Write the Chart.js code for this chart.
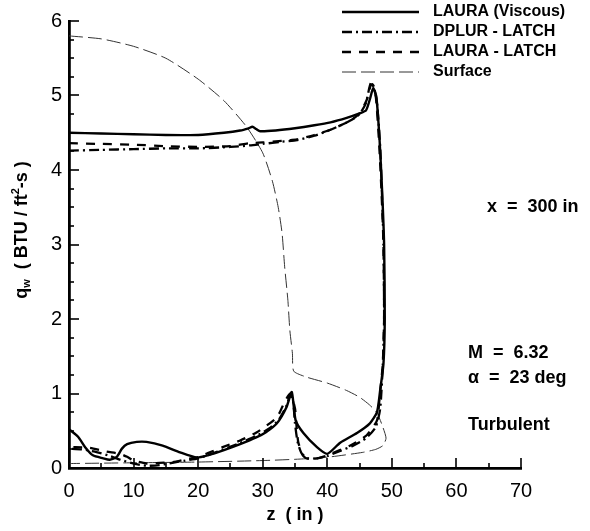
<!DOCTYPE html>
<html>
<head>
<meta charset="utf-8">
<script src="https://cdn.jsdelivr.net/npm/chart.js@4"></script>
<style>
  html, body { margin: 0; background: #fff; }
</style>
</head>
<body>
<canvas id="heatChart" width="590" height="531"></canvas>
<script>
const seriesNames = ['LAURA (Viscous)', 'DPLUR - LATCH', 'LAURA - LATCH', 'Surface'];

// solid line: windward side left->right, down the edge, leeward side right->left
const lauraViscousZ = [0, 5, 10, 15, 20, 24, 26.5, 27.8, 28.4, 29.0, 29.6, 32, 35, 38, 40.5, 43, 45, 46, 46.6, 47.1, 47.6, 48.1, 48.5, 48.8, 48.9, 48.7, 48.2, 47.7, 46.6, 44.6, 42, 40, 38.4, 36.3, 35.1, 34.5, 33.7, 32.2, 30.5, 29, 26.5, 24, 21.5, 19.8, 17.2, 14.5, 12, 10.5, 9, 8.2, 7.4, 6.3, 5.3, 3.7, 2.5, 1.4, 0];
const lauraViscousQ = [4.50, 4.49, 4.48, 4.47, 4.47, 4.50, 4.53, 4.56, 4.58, 4.55, 4.52, 4.53, 4.56, 4.60, 4.64, 4.70, 4.76, 4.80, 4.95, 5.10, 4.98, 4.40, 3.70, 3.00, 2.00, 1.40, 1.05, 0.75, 0.60, 0.47, 0.34, 0.19, 0.28, 0.47, 0.64, 1.02, 0.82, 0.60, 0.48, 0.41, 0.32, 0.24, 0.17, 0.14, 0.21, 0.30, 0.35, 0.35, 0.32, 0.26, 0.15, 0.11, 0.13, 0.17, 0.28, 0.42, 0.52];

const dplurZ = [0, 5, 10, 15, 20, 25, 28, 30, 33, 35.3, 38, 40.5, 43.5, 45, 46, 46.5, 46.8, 47.2, 47.7, 48.2, 48.5, 48.7, 48.8, 48.6, 48.2, 47.5, 46, 44, 42, 40, 38.5, 37, 36, 35.4, 35.0, 34.7, 34.3, 33.6, 32.5, 31, 29, 26, 23, 20, 18, 16, 14, 12, 10, 8, 6, 4, 2, 0];
const dplurQ = [4.26, 4.27, 4.28, 4.29, 4.29, 4.31, 4.33, 4.35, 4.38, 4.40, 4.46, 4.54, 4.66, 4.75, 4.90, 5.10, 5.18, 5.12, 4.90, 4.30, 3.60, 3.00, 2.00, 1.40, 0.80, 0.55, 0.40, 0.30, 0.23, 0.16, 0.13, 0.13, 0.20, 0.35, 0.60, 0.90, 0.98, 0.82, 0.65, 0.53, 0.43, 0.32, 0.22, 0.13, 0.10, 0.07, 0.04, 0.03, 0.06, 0.11, 0.17, 0.22, 0.25, 0.26];

const lauraLatchZ = [0, 5, 10, 15, 20, 25, 28, 30, 33, 35.3, 38, 40.5, 43.5, 45, 46.1, 46.7, 47.0, 47.5, 48.0, 48.4, 48.7, 48.8, 48.6, 48.1, 47.7, 46.1, 43.5, 40, 38.4, 36.8, 36.2, 35.5, 35.2, 35.0, 34.3, 33.4, 32.2, 29.1, 26.5, 23.8, 21.5, 20.2, 18.3, 16.1, 14, 12, 10, 9, 7.9, 5.8, 3.2, 1, 0];
const lauraLatchQ = [4.36, 4.35, 4.34, 4.32, 4.31, 4.32, 4.36, 4.37, 4.39, 4.41, 4.47, 4.54, 4.66, 4.76, 4.94, 5.13, 5.15, 5.00, 4.40, 3.70, 3.00, 2.00, 1.40, 0.95, 0.64, 0.44, 0.30, 0.17, 0.13, 0.13, 0.17, 0.35, 0.60, 0.80, 1.00, 0.89, 0.68, 0.48, 0.37, 0.28, 0.20, 0.15, 0.12, 0.08, 0.07, 0.06, 0.10, 0.15, 0.19, 0.22, 0.27, 0.28, 0.28];

// body cross-section outline drawn in the same frame
const surfaceZ = [0, 5, 10, 15, 20, 24, 27.5, 30, 31.5, 32.4, 33, 33.4, 33.9, 34.2, 34.6, 34.8, 36.8, 40, 43, 45, 46.5, 47.7, 48.6, 49.1, 48.6, 47.5, 45.5, 40.5, 35.8, 30, 20, 10, 0];
const surfaceQ = [5.80, 5.76, 5.66, 5.50, 5.22, 4.93, 4.58, 4.23, 3.85, 3.50, 3.15, 2.70, 2.25, 1.85, 1.54, 1.30, 1.22, 1.14, 1.04, 0.95, 0.85, 0.74, 0.55, 0.40, 0.30, 0.25, 0.21, 0.15, 0.12, 0.10, 0.08, 0.07, 0.06];

const notes = ['x  =  300 in', 'M  =  6.32', '\u03b1  =  23 deg', 'Turbulent'];

const FONT = '"Liberation Sans", Arial, Helvetica, sans-serif';

function pairs(zs, qs) {
    return zs.map((z, i) => ({ x: z, y: qs[i] }));
}

const decorations = {
    id: 'decorations',
    afterDraw(chart) {
        const ctx = chart.ctx;
        const xs = chart.scales.x;
        const ys = chart.scales.y;
        const area = chart.chartArea;
        ctx.save();

        // inward tick marks
        ctx.strokeStyle = '#000';
        ctx.lineWidth = 1.6;
        for (let v = 0; v <= 70; v += 5) {
            const px = Math.round(xs.getPixelForValue(v));
            const len = v % 10 === 0 ? 10 : 5;
            ctx.beginPath();
            ctx.moveTo(px, area.bottom);
            ctx.lineTo(px, area.bottom - len);
            ctx.stroke();
        }
        for (let v = 0; v <= 6; v += 0.25) {
            const py = Math.round(ys.getPixelForValue(v));
            const len = Number.isInteger(v) ? 10 : 5;
            ctx.beginPath();
            ctx.moveTo(area.left, py);
            ctx.lineTo(area.left + len, py);
            ctx.stroke();
        }

        // legend
        ctx.font = 'bold 16px ' + FONT;
        ctx.textBaseline = 'middle';
        ctx.textAlign = 'left';
        chart.data.datasets.forEach((ds, i) => {
            const y = 12 + i * 20;
            ctx.strokeStyle = ds.borderColor;
            ctx.lineWidth = ds.borderWidth;
            ctx.setLineDash(ds.borderDash || []);
            ctx.beginPath();
            ctx.moveTo(342, y);
            ctx.lineTo(419, y);
            ctx.stroke();
            ctx.setLineDash([]);
            ctx.fillStyle = '#000';
            ctx.fillText(ds.label, 433, y);
        });

        // annotations
        ctx.font = 'bold 18px ' + FONT;
        ctx.fillText(notes[0], 487, 207);
        ctx.fillText(notes[1], 468, 353);
        ctx.fillText(notes[2], 468, 378);
        ctx.fillText(notes[3], 468, 425);

        // y axis title with subscript and superscript
        const parts = [
            { t: 'q', f: 'bold 18px ', dy: 0 },
            { t: 'w', f: 'bold 11px ', dy: 5 },
            { t: '  ( BTU / ft', f: 'bold 18px ', dy: 0 },
            { t: '2', f: 'bold 11px ', dy: -6 },
            { t: '-s )', f: 'bold 18px ', dy: 0 }
        ];
        let total = 0;
        parts.forEach(p => { ctx.font = p.f + FONT; p.w = ctx.measureText(p.t).width; total += p.w; });
        ctx.translate(22, 230);
        ctx.rotate(-Math.PI / 2);
        let cx = -total / 2;
        parts.forEach(p => {
            ctx.font = p.f + FONT;
            ctx.fillText(p.t, cx, p.dy);
            cx += p.w;
        });
        ctx.restore();
    }
};

const ctx = document.getElementById('heatChart').getContext('2d');

new Chart(ctx, {
    type: 'scatter',
    data: {
        datasets: [
            {
                label: seriesNames[0],
                data: pairs(lauraViscousZ, lauraViscousQ),
                showLine: true,
                borderColor: '#000',
                borderWidth: 2.4,
                tension: 0.2,
            },
            {
                label: seriesNames[1],
                data: pairs(dplurZ, dplurQ),
                showLine: true,
                borderColor: '#000',
                borderWidth: 2.3,
                borderDash: [10, 4, 2, 4],
                tension: 0.2,
            },
            {
                label: seriesNames[2],
                data: pairs(lauraLatchZ, lauraLatchQ),
                showLine: true,
                borderColor: '#000',
                borderWidth: 2.3,
                borderDash: [9, 8],
                tension: 0.2,
            },
            {
                label: seriesNames[3],
                data: pairs(surfaceZ, surfaceQ),
                showLine: true,
                borderColor: '#333',
                borderWidth: 1,
                borderDash: [14, 5],
                tension: 0.2,
            },
        ]
    },
    options: {
        responsive: false,
        animation: false,
        layout: { padding: { top: 21, right: 69, left: 0, bottom: 0 } },
        elements: { point: { radius: 0, hoverRadius: 0 } },
        plugins: {
            legend: { display: false },
            tooltip: { enabled: false },
        },
        scales: {
            x: {
                type: 'linear',
                min: 0,
                max: 70,
                afterFit: s => { s.height = 63; },
                grid: { drawOnChartArea: false, drawTicks: false },
                border: { color: '#000', width: 2.8 },
                ticks: {
                    stepSize: 10,
                    padding: 11,
                    maxRotation: 0,
                    color: '#000',
                    font: { family: FONT, size: 20 },
                },
                title: {
                    display: true,
                    text: 'z  ( in )',
                    color: '#000',
                    font: { family: FONT, size: 18, weight: 'bold' },
                    padding: { top: 0, bottom: 5 },
                }
            },
            y: {
                type: 'linear',
                min: 0,
                max: 6,
                afterFit: s => { s.width = 69; },
                grid: { drawOnChartArea: false, drawTicks: false },
                border: { color: '#000', width: 2.8 },
                ticks: {
                    stepSize: 1,
                    padding: 7,
                    color: '#000',
                    font: { family: FONT, size: 20 },
                }
            }
        }
    },
    plugins: [decorations]
});
</script>
</body>
</html>
